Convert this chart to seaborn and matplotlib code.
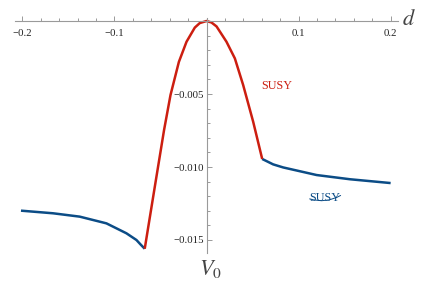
import seaborn as sns
import matplotlib.pyplot as plt
import matplotlib.ticker as mticker

# values
d_left = [-0.2015, -0.1667, -0.1377, -0.1087, -0.087, -0.0761, -0.0717, -0.0671]
v_left = [-0.01299, -0.01317, -0.0134, -0.01386, -0.01454, -0.0150, -0.0153, -0.01560]

d_susy = [-0.0671, -0.0562, -0.0461, -0.0391, -0.0300, -0.0217, -0.0127, -0.0073, 0.0,
          0.0054, 0.0109, 0.0217, 0.0308, 0.0398, 0.0507, 0.0605]
v_susy = [-0.01560, -0.01137, -0.00747, -0.00507, -0.0028, -0.00142, -0.00045, -0.00014, 0.0,
          -0.0001, -0.00037, -0.00142, -0.00256, -0.00438, -0.0069, -0.00945]

d_right = [0.0605, 0.0724, 0.0833, 0.1196, 0.156, 0.2]
v_right = [-0.00945, -0.00982, -0.01003, -0.01055, -0.01084, -0.0111]

xticks = [-0.2, -0.1, 0.1, 0.2]
xlabels = ["\u22120.2", "\u22120.1", "0.1", "0.2"]
yticks = [-0.005, -0.010, -0.015]
ylabels = ["\u22120.005", "\u22120.010", "\u22120.015"]

red = "#cc1e10"
blue = "#0b4c86"
gray = "#9a9a9a"

sns.set_style("white")
plt.rcParams["font.family"] = ["Liberation Serif", "DejaVu Serif"]
plt.rcParams["mathtext.fontset"] = "stix"

fig = plt.figure(figsize=(4.36, 2.91), dpi=100)
ax = fig.add_axes([15 / 436, (291 - 252.7) / 291, 383 / 436, (252.7 - 18.1) / 291])

sns.lineplot(x=d_left, y=v_left, ax=ax, color=blue, lw=1.8, sort=False)
sns.lineplot(x=d_right, y=v_right, ax=ax, color=blue, lw=1.8, sort=False)
sns.lineplot(x=d_susy, y=v_susy, ax=ax, color=red, lw=1.8, sort=False)
for l in ax.lines:
    l.set_clip_on(False)
    l.set_solid_capstyle("butt")
    l.set_solid_joinstyle("round")

ax.set_xlim(-0.208, 0.208)
ax.set_ylim(-0.01587, 0.0002)

for s in ["top", "right"]:
    ax.spines[s].set_visible(False)
ax.spines["bottom"].set_position(("data", 0))
ax.spines["left"].set_position(("data", 0))
for s in ["bottom", "left"]:
    ax.spines[s].set_color(gray)
    ax.spines[s].set_linewidth(0.8)

ax.set_xticks(xticks)
ax.set_xticklabels(xlabels)
ax.set_yticks(yticks)
ax.set_yticklabels(ylabels)
ax.xaxis.set_minor_locator(mticker.MultipleLocator(0.02))
ax.yaxis.set_minor_locator(mticker.MultipleLocator(0.001))
ax.tick_params(which="both", bottom=True, left=True, direction="in", color=gray,
               width=0.7, labelsize=7.8, labelcolor="#222222")
ax.tick_params(which="major", length=3.6)
ax.tick_params(which="minor", length=2.2)
ax.tick_params(axis="x", which="major", pad=5.5)
ax.tick_params(axis="y", which="major", pad=2)
ax.set_xlabel("")
ax.set_ylabel("")

fig.text(409 / 436, 1 - 20 / 291, "$d$", fontsize=16, color="#444444", ha="center", va="center")
fig.text(210 / 436, 1 - 269 / 291, "$V_0$", fontsize=16, color="#444444", ha="center", va="center")

fig.text(276.5 / 436, 1 - 86 / 291, "SUSY", fontsize=8.7, color=red, ha="center", va="center")
fig.text(325 / 436, 1 - 198 / 291, "SUSY", fontsize=8.7, color=blue, ha="center", va="center")
ax.annotate("", xy=(343, 291 - 194), xytext=(307, 291 - 198), xycoords="figure pixels",
            textcoords="figure pixels",
            arrowprops=dict(arrowstyle="-", color=blue, lw=0.7,
                            connectionstyle="arc3,rad=0.25"))

fig.savefig("out.png", dpi=100)
